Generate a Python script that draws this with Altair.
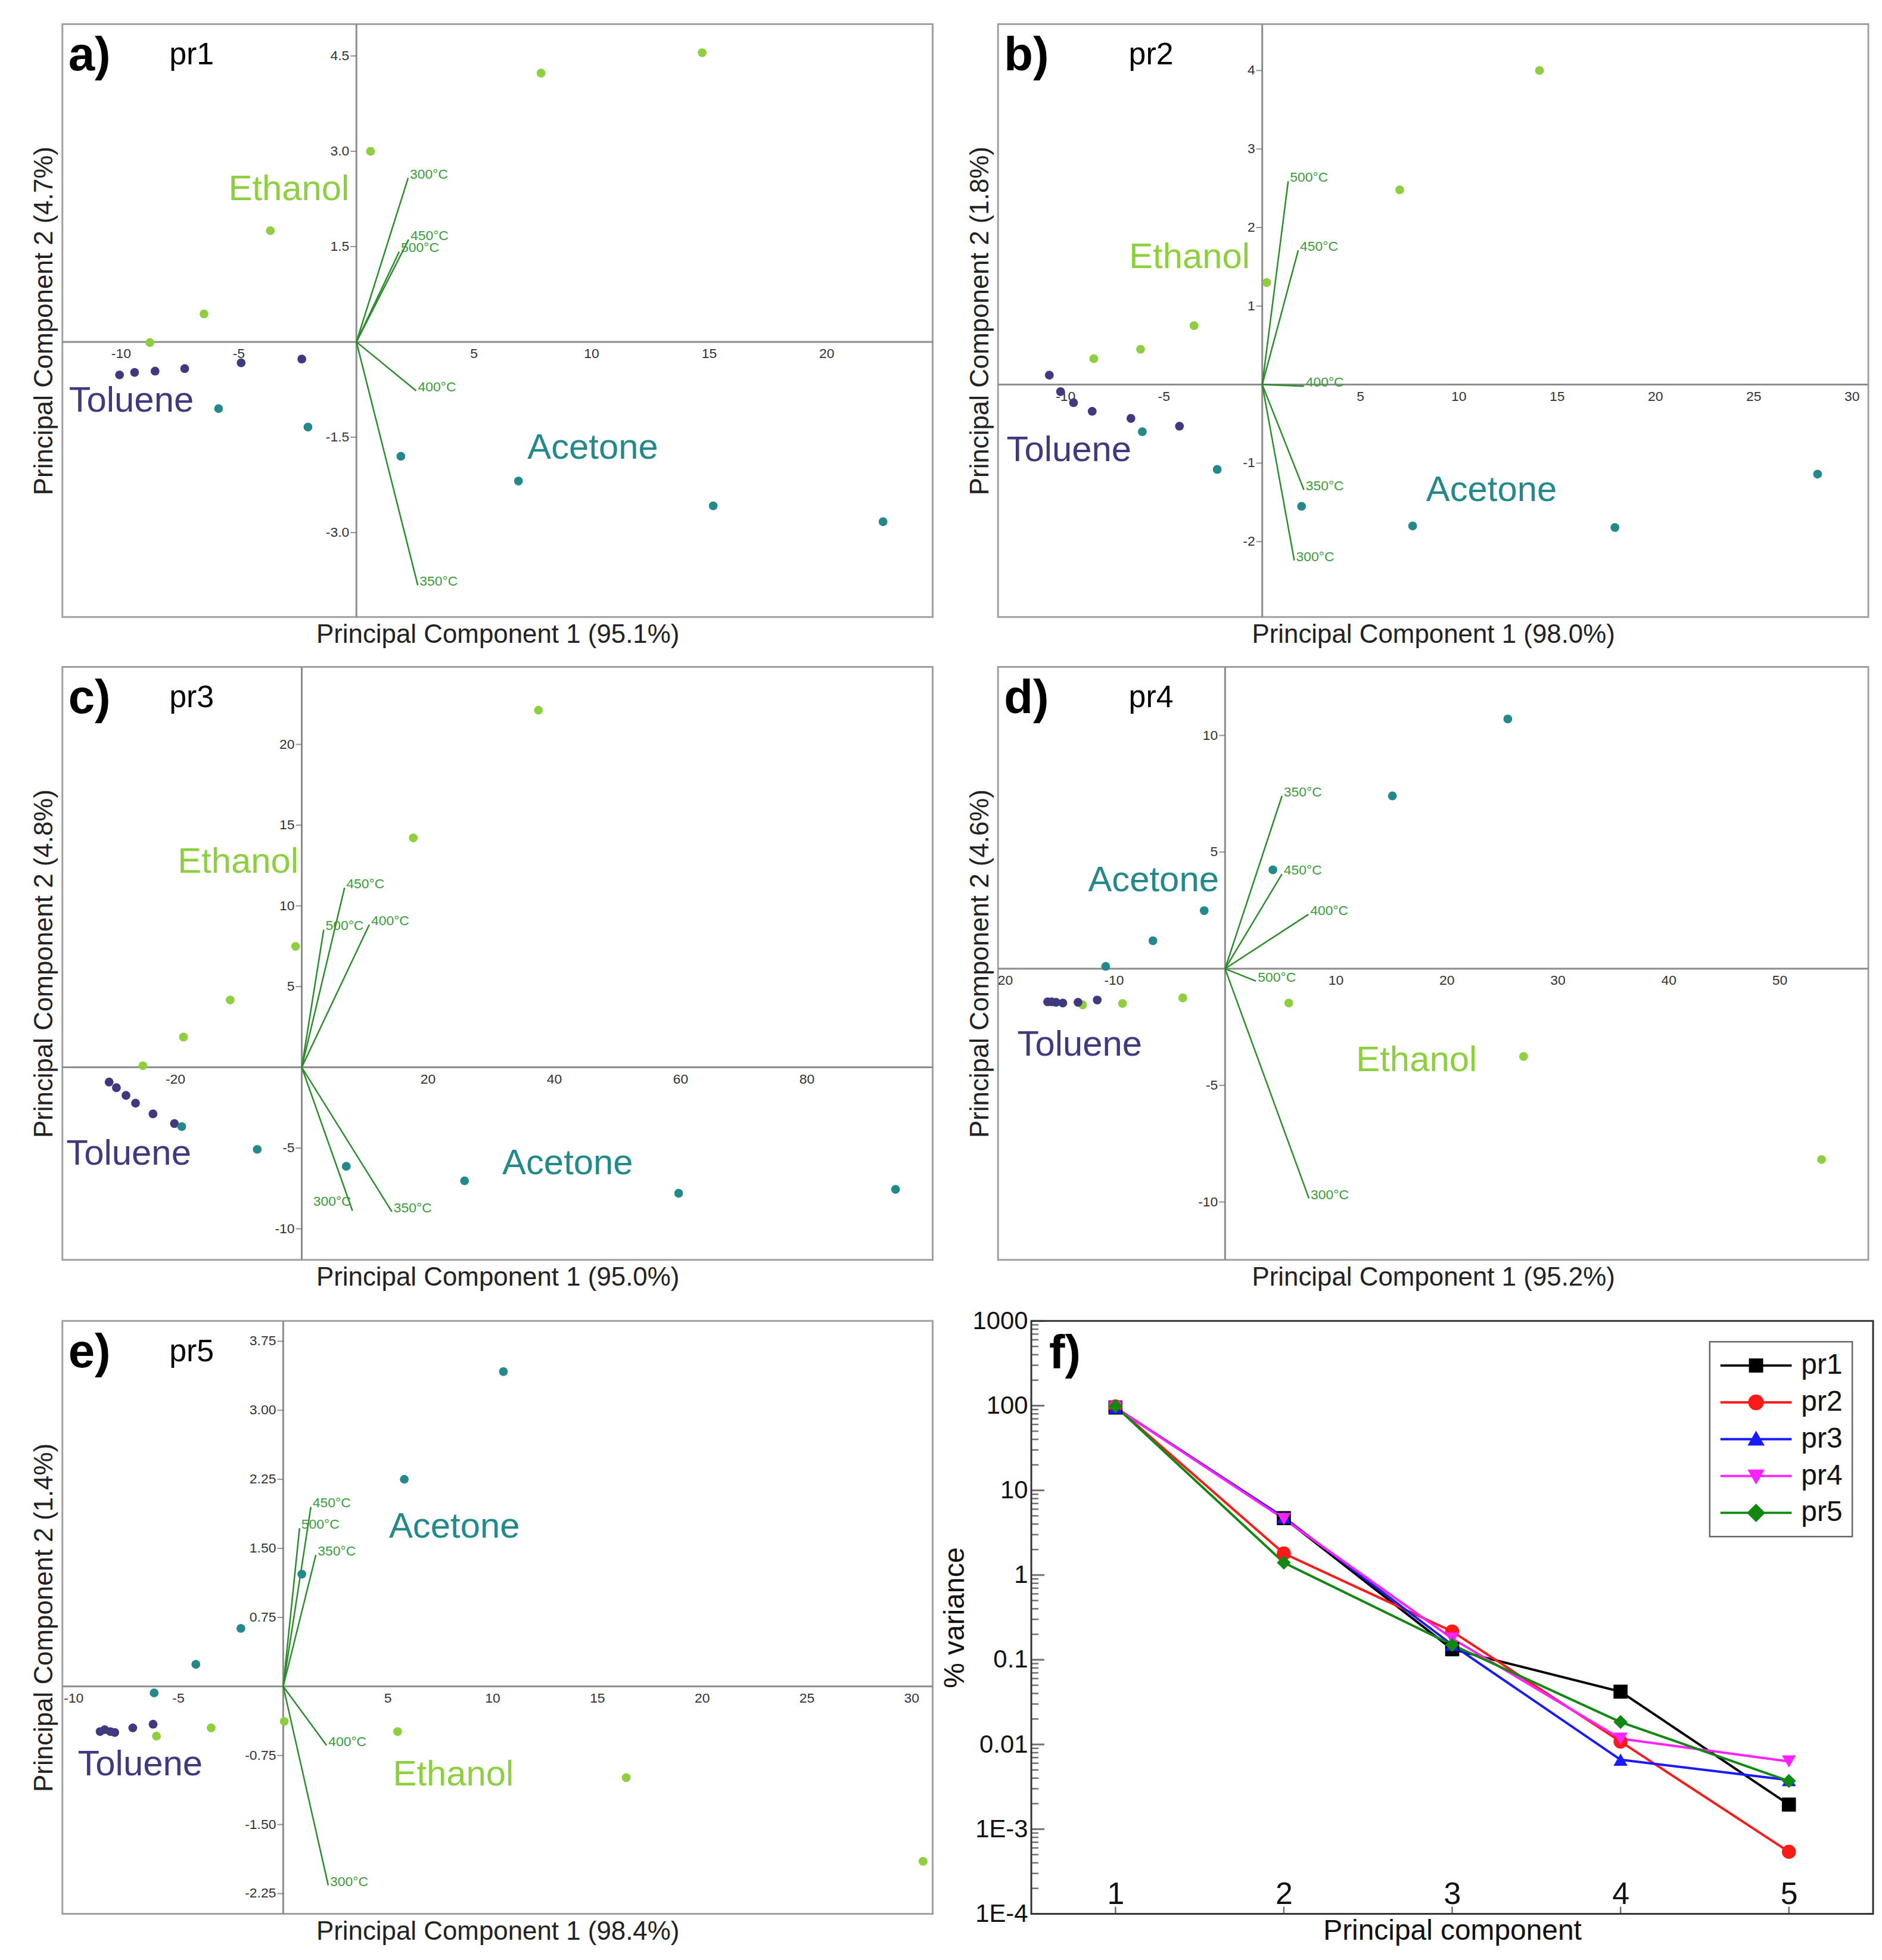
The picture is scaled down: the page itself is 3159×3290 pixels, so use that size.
import altair as alt
import pandas as pd

SANS = "Liberation Sans, Arial, Helvetica, sans-serif"
NARROW = "Liberation Sans Narrow, Liberation Sans, Arial, sans-serif"

ETH_C = "#8dcf3f"
TOL_C = "#3f3a80"
ACE_C = "#23898b"
LOAD_C = "#2b8c2b"
LOAD_TXT = "#3a9c3a"
ZERO_C = "#8c8c8c"
FRAME_C = "#a0a0a0"

SOLVENTS = ["Ethanol", "Toluene", "Acetone"]
SOLVENT_COLORS = [ETH_C, TOL_C, ACE_C]

# ---------------- panel a (pr1) ----------------
a_eth_x = [7.85, 14.7, 0.6, -3.66, -6.48, -8.78]
a_eth_y = [4.23, 4.55, 3.0, 1.75, 0.44, -0.01]
a_tol_x = [-10.07, -9.43, -8.56, -7.3, -4.9, -2.32]
a_tol_y = [-0.52, -0.48, -0.46, -0.42, -0.33, -0.27]
a_ace_x = [-5.86, -2.06, 1.89, 6.89, 15.17, 22.39]
a_ace_y = [-1.05, -1.34, -1.8, -2.19, -2.58, -2.83]
a_load_t = ["300°C", "450°C", "500°C", "400°C", "350°C"]
a_load_x = [2.2, 2.22, 1.82, 2.54, 2.61]
a_load_y = [2.58, 1.61, 1.42, -0.77, -3.83]
a_load_al = ["left", "left", "left", "left", "left"]
a_xticks = ["-10", "-5", "5", "10", "15", "20"]
a_yticks = ["4.5", "3.0", "1.5", "-1.5", "-3.0"]
a_grp_x = [-2.87, -9.57, 10.05]
a_grp_y = [2.40, -0.93, -1.67]

# ---------------- panel b (pr2) ----------------
b_eth_x = [14.1, 6.99, 0.23, -3.47, -6.19, -8.57]
b_eth_y = [4.0, 2.48, 1.30, 0.75, 0.45, 0.33]
b_tol_x = [-10.83, -10.26, -9.6, -8.65, -6.68, -4.21]
b_tol_y = [0.12, -0.09, -0.23, -0.34, -0.43, -0.53]
b_ace_x = [-6.1, -2.29, 2.0, 7.65, 17.94, 28.25]
b_ace_y = [-0.6, -1.08, -1.55, -1.8, -1.82, -1.14]
b_load_t = ["500°C", "450°C", "400°C", "350°C", "300°C"]
b_load_x = [1.32, 1.83, 2.12, 2.12, 1.63]
b_load_y = [2.59, 1.71, -0.02, -1.34, -2.24]
b_load_al = ["left", "left", "left", "left", "left"]
b_xticks = ["-10", "-5", "5", "10", "15", "20", "25", "30"]
b_yticks = ["4", "3", "2", "1", "-1", "-2"]
b_grp_x = [-3.70, -9.83, 11.66]
b_grp_y = [1.62, -0.84, -1.35]

# ---------------- panel c (pr3) ----------------
c_eth_x = [37.47, 17.66, -0.98, -11.33, -18.73, -25.16]
c_eth_y = [22.12, 14.21, 7.49, 4.17, 1.88, 0.1]
c_tol_x = [-30.5, -29.35, -27.83, -26.32, -23.55, -20.16]
c_tol_y = [-0.91, -1.26, -1.74, -2.22, -2.88, -3.48]
c_ace_x = [-19.0, -7.05, 7.05, 25.78, 59.68, 94.02]
c_ace_y = [-3.67, -5.08, -6.13, -7.03, -7.8, -7.56]
c_load_t = ["450°C", "500°C", "400°C", "300°C", "350°C"]
c_load_x = [6.78, 3.48, 10.7, 8.03, 14.27]
c_load_y = [11.13, 8.53, 8.84, -8.89, -8.94]
c_load_al = ["left", "left", "left", "right", "left"]
c_xticks = ["-20", "20", "40", "60", "80"]
c_yticks = ["20", "15", "10", "5", "-5", "-10"]
c_grp_x = [-10.08, -27.39, 42.1]
c_grp_y = [12.73, -5.36, -5.96]

# ---------------- panel d (pr4) ----------------
d_eth_x = [53.76, 26.9, 5.74, -3.81, -9.24, -12.84]
d_eth_y = [-8.18, -3.76, -1.47, -1.25, -1.49, -1.55]
d_tol_x = [-15.99, -15.63, -15.23, -14.62, -13.25, -11.52]
d_tol_y = [-1.42, -1.42, -1.44, -1.47, -1.44, -1.34]
d_ace_x = [25.48, 15.08, 4.31, -1.88, -6.5, -10.76]
d_ace_y = [10.71, 7.41, 4.24, 2.49, 1.2, 0.1]
d_load_t = ["350°C", "450°C", "400°C", "500°C", "300°C"]
d_load_x = [5.13, 5.13, 7.51, 2.79, 7.56]
d_load_y = [7.41, 4.06, 2.33, -0.53, -9.85]
d_load_al = ["left", "left", "left", "left", "left"]
d_xticks = ["-20", "-10", "10", "20", "30", "40", "50"]
d_yticks = ["10", "5", "-5", "-10"]
d_grp_x = [17.26, -13.1, -6.45]
d_grp_y = [-3.93, -3.28, 3.78]

# ---------------- panel e (pr5) ----------------
e_eth_x = [30.54, 16.37, 5.46, 0.05, -3.44, -6.05]
e_eth_y = [-1.9, -0.99, -0.49, -0.38, -0.45, -0.54]
e_tol_x = [-8.74, -8.52, -8.25, -8.04, -7.18, -6.21]
e_tol_y = [-0.49, -0.47, -0.49, -0.50, -0.45, -0.41]
e_ace_x = [10.51, 5.78, 0.89, -2.02, -4.17, -6.16]
e_ace_y = [3.42, 2.25, 1.22, 0.63, 0.24, -0.07]
e_load_t = ["450°C", "500°C", "350°C", "400°C", "300°C"]
e_load_x = [1.32, 0.78, 1.56, 2.07, 2.15]
e_load_y = [1.95, 1.72, 1.43, -0.64, -2.16]
e_load_al = ["left", "left", "left", "left", "left"]
e_xticks = ["-10", "-5", "5", "10", "15", "20", "25", "30"]
e_yticks = ["3.75", "3.00", "2.25", "1.50", "0.75", "-0.75", "-1.50", "-2.25"]
e_grp_x = [8.12, -6.83, 8.17]
e_grp_y = [-0.96, -0.85, 1.73]

# ---------------- panel f (scree) ----------------
f_pc = [1, 2, 3, 4, 5]
f_series = ["pr1", "pr2", "pr3", "pr4", "pr5"]
f_pr1 = [95.1, 4.7, 0.133, 0.042, 0.00195]
f_pr2 = [98.0, 1.8, 0.216, 0.0108, 0.00054]
f_pr3 = [95.0, 4.8, 0.150, 0.0066, 0.0038]
f_pr4 = [95.2, 4.6, 0.178, 0.0117, 0.0063]
f_pr5 = [98.4, 1.4, 0.150, 0.0184, 0.0037]
f_colors = ["#000000", "#ff1a1a", "#1a1aff", "#ff22ff", "#118811"]
f_shapes = ["square", "circle", "triangle-up", "triangle-down", "diamond"]
f_ymajor = [1e-4, 1e-3, 1e-2, 1e-1, 1, 10, 100, 1000]

W, H = 1465, 998


def scatter_panel(letter, name, name_x, pc1, pc2, xdom, ydom,
                  eth, tol, ace, load, xticks, yticks, grp):
    xs = alt.Scale(domain=xdom, nice=False, zero=False)
    ys = alt.Scale(domain=ydom, nice=False, zero=False)
    common = dict(labels=False, ticks=False, domain=False, grid=False,
                  titleFontSize=44, titleFontWeight="normal", titlePadding=8,
                  titleColor="#222222", titleFont=SANS)
    xa = alt.Axis(title=f"Principal Component 1 ({pc1})", **common)
    ya = alt.Axis(title=f"Principal Component 2 ({pc2})", **common)

    def X(f="x"):
        return alt.X(f"{f}:Q", scale=xs, axis=xa)

    def Y(f="y"):
        return alt.Y(f"{f}:Q", scale=ys, axis=ya)

    col = alt.Color("solvent:N", scale=alt.Scale(domain=SOLVENTS, range=SOLVENT_COLORS), legend=None)

    vz = alt.Chart(pd.DataFrame({"x": [0.0]})).mark_rule(color=ZERO_C, strokeWidth=3).encode(x=X())
    hz = alt.Chart(pd.DataFrame({"y": [0.0]})).mark_rule(color=ZERO_C, strokeWidth=3).encode(y=Y())

    ydf = pd.DataFrame({"x": [0.0] * len(yticks), "y": [float(t) for t in yticks], "t": yticks})
    xdf = pd.DataFrame({"x": [float(t) for t in xticks], "y": [0.0] * len(xticks), "t": xticks})
    ytk = alt.Chart(ydf).mark_tick(orient="horizontal", size=10, thickness=2, xOffset=-5,
                                   color="#666666").encode(x=X(), y=Y())
    ylab = alt.Chart(ydf).mark_text(align="right", baseline="middle", dx=-12, fontSize=23,
                                    font=NARROW, color="#333333", clip=True).encode(x=X(), y=Y(), text="t:N")
    xlab = alt.Chart(xdf).mark_text(align="center", baseline="top", dy=9, fontSize=23,
                                    font=NARROW, color="#333333", clip=True).encode(x=X(), y=Y(), text="t:N")

    rows = []
    for s, (xx, yy) in zip(SOLVENTS, [eth, tol, ace]):
        for a, b in zip(xx, yy):
            rows.append({"x": a, "y": b, "solvent": s})
    pts = alt.Chart(pd.DataFrame(rows)).mark_circle(size=220, opacity=1).encode(x=X(), y=Y(), color=col)

    lt, lx, ly, lal = load
    ldf = pd.DataFrame({"x": lx, "y": ly, "x0": [0.0] * len(lx), "y0": [0.0] * len(lx), "t": lt, "al": lal})
    lrule = alt.Chart(ldf).mark_rule(color=LOAD_C, strokeWidth=2.5).encode(
        x=X(), y=Y(), x2="x0:Q", y2="y0:Q")
    ltxt_l = alt.Chart(ldf).transform_filter(alt.datum.al == "left").mark_text(
        align="left", baseline="middle", dx=3, dy=-6, fontSize=23, font=NARROW, color=LOAD_TXT
    ).encode(x=X(), y=Y(), text="t:N")
    ltxt_r = alt.Chart(ldf).transform_filter(alt.datum.al == "right").mark_text(
        align="right", baseline="middle", dx=-2, dy=-16, fontSize=23, font=NARROW, color=LOAD_TXT
    ).encode(x=X(), y=Y(), text="t:N")

    gdf = pd.DataFrame({"x": grp[0], "y": grp[1], "solvent": SOLVENTS})
    glab = alt.Chart(gdf).mark_text(align="center", baseline="middle", fontSize=60, font=SANS).encode(
        x=X(), y=Y(), text="solvent:N", color=col)

    let = alt.Chart(pd.DataFrame({"t": [letter]})).mark_text(
        align="left", baseline="alphabetic", fontSize=80, fontWeight="bold", font=SANS, color="black"
    ).encode(x=alt.value(10), y=alt.value(78), text="t:N")
    nm = alt.Chart(pd.DataFrame({"t": [name]})).mark_text(
        align="left", baseline="alphabetic", fontSize=52, font=SANS, color="black"
    ).encode(x=alt.value(name_x), y=alt.value(68), text="t:N")

    return alt.layer(vz, hz, ytk, ylab, xlab, lrule, ltxt_l, ltxt_r, pts, glab, let, nm).properties(
        width=W, height=H, view=alt.ViewBackground(stroke=FRAME_C, strokeWidth=3))


pa = scatter_panel("a)", "pr1", 180, "95.1%", "4.7%", [-12.5, 24.5], [-4.33, 5.0],
                   (a_eth_x, a_eth_y), (a_tol_x, a_tol_y), (a_ace_x, a_ace_y),
                   (a_load_t, a_load_x, a_load_y, a_load_al), a_xticks, a_yticks, (a_grp_x, a_grp_y))
pb = scatter_panel("b)", "pr2", 220, "98.0%", "1.8%", [-13.44, 30.83], [-2.96, 4.59],
                   (b_eth_x, b_eth_y), (b_tol_x, b_tol_y), (b_ace_x, b_ace_y),
                   (b_load_t, b_load_x, b_load_y, b_load_al), b_xticks, b_yticks, (b_grp_x, b_grp_y))
pc = scatter_panel("c)", "pr3", 180, "95.0%", "4.8%", [-37.9, 99.9], [-11.92, 24.8],
                   (c_eth_x, c_eth_y), (c_tol_x, c_tol_y), (c_ace_x, c_ace_y),
                   (c_load_t, c_load_x, c_load_y, c_load_al), c_xticks, c_yticks, (c_grp_x, c_grp_y))
pd_ = scatter_panel("d)", "pr4", 220, "95.2%", "4.6%", [-20.46, 57.97], [-12.48, 12.94],
                    (d_eth_x, d_eth_y), (d_tol_x, d_tol_y), (d_ace_x, d_ace_y),
                    (d_load_t, d_load_x, d_load_y, d_load_al), d_xticks, d_yticks, (d_grp_x, d_grp_y))
pe = scatter_panel("e)", "pr5", 180, "98.4%", "1.4%", [-10.54, 31.0], [-2.47, 3.97],
                   (e_eth_x, e_eth_y), (e_tol_x, e_tol_y), (e_ace_x, e_ace_y),
                   (e_load_t, e_load_x, e_load_y, e_load_al), e_xticks, e_yticks, (e_grp_x, e_grp_y))

# ---------------- panel f ----------------
frows = []
for s, vals in zip(f_series, [f_pr1, f_pr2, f_pr3, f_pr4, f_pr5]):
    for p, v in zip(f_pc, vals):
        frows.append({"pc": p, "value": v, "series": s, "marker": s})
fdf = pd.DataFrame(frows)

fxs = alt.Scale(domain=[0.5, 5.5], nice=False, zero=False)
fys = alt.Scale(type="log", domain=[1e-4, 1000], nice=False)
fxa = alt.Axis(title="Principal component", values=f_pc, format="d", grid=False, ticks=False, domain=False,
               offset=-58, labelPadding=0, labelFontSize=52, labelFont=NARROW, labelColor="#111111",
               titleFontSize=48, titleFont=NARROW, titleFontWeight="normal", titleColor="#111111",
               titlePadding=12)
fya = alt.Axis(title="% variance", values=f_ymajor, grid=False, ticks=False, domain=False,
               labelExpr="datum.value < 0.005 ? '1E' + round(log(datum.value)/LN10) : format(datum.value, '~g')",
               labelFontSize=42, labelFont=NARROW, labelColor="#111111", labelPadding=6,
               titleFontSize=48, titleFont=NARROW, titleFontWeight="normal", titleColor="#111111",
               titlePadding=4)


def FX():
    return alt.X("pc:Q", scale=fxs, axis=fxa)


def FY():
    return alt.Y("value:Q", scale=fys, axis=fya)


fcol_scale = alt.Scale(domain=f_series, range=f_colors)

fline = alt.Chart(fdf).mark_line(strokeWidth=4).encode(
    x=FX(), y=FY(), color=alt.Color("series:N", scale=fcol_scale, legend=None))
fpts = alt.Chart(fdf).mark_point(filled=True, size=560, opacity=1).encode(
    x=FX(), y=FY(), color=alt.Color("series:N", scale=fcol_scale, legend=None),
    shape=alt.Shape("marker:N", scale=alt.Scale(domain=f_series, range=f_shapes), legend=None))

bar = "M-2.5,-0.08H2.5V0.08H-2.5Z"
legend_paths = [
    bar + "M-0.5,-0.5H0.5V0.5H-0.5Z",
    bar + "M-0.55,0A0.55,0.55 0 1,1 0.55,0A0.55,0.55 0 1,1 -0.55,0Z",
    bar + "M0,-0.6L0.6,0.45L-0.6,0.45Z",
    bar + "M-0.6,-0.45L0.6,-0.45L0,0.6Z",
    bar + "M0,-0.65L0.65,0L0,0.65L-0.65,0Z",
]
leg = alt.Legend(title=None, orient="top-right", offset=35, labelFontSize=48, labelFont=NARROW,
                 labelColor="#111111", symbolSize=2304, symbolStrokeWidth=0, symbolOpacity=1,
                 padding=16, rowPadding=14, labelOffset=52, symbolOffset=38,
                 strokeColor="#666666", fillColor="white")
flegend = alt.Chart(fdf).transform_filter("false").mark_point(filled=True, size=2304, opacity=1).encode(
    x=FX(), y=FY(),
    color=alt.Color("series:N", scale=fcol_scale, legend=leg),
    shape=alt.Shape("series:N", scale=alt.Scale(domain=f_series, range=legend_paths), legend=leg))

ymin_vals = [k * 10.0 ** e for e in range(-4, 3) for k in range(2, 10)]
ftk_major = alt.Chart(pd.DataFrame({"pc": [0.5] * len(f_ymajor), "value": f_ymajor})).mark_tick(
    orient="horizontal", size=22, thickness=3, xOffset=11, color="#333333").encode(x=FX(), y=FY())
ftk_minor = alt.Chart(pd.DataFrame({"pc": [0.5] * len(ymin_vals), "value": ymin_vals})).mark_tick(
    orient="horizontal", size=12, thickness=2.5, xOffset=6, color="#333333").encode(x=FX(), y=FY())
ftk_x = alt.Chart(pd.DataFrame({"pc": f_pc, "value": [1e-4] * len(f_pc)})).mark_tick(
    orient="vertical", size=12, thickness=2.5, yOffset=-6, color="#333333").encode(x=FX(), y=FY())
flet = alt.Chart(pd.DataFrame({"t": ["f)"]})).mark_text(
    align="left", baseline="alphabetic", fontSize=80, fontWeight="bold", font=SANS, color="black"
).encode(x=alt.value(30), y=alt.value(80), text="t:N")

pf = alt.layer(ftk_major, ftk_minor, ftk_x, fline, fpts, flegend, flet).resolve_scale(
    color="independent", shape="independent").properties(
    width=1417, height=H, view=alt.ViewBackground(stroke="#333333", strokeWidth=3))

row1 = alt.hconcat(pa, pb, spacing=53)
row2 = alt.hconcat(pc, pd_, spacing=53)
row3 = alt.hconcat(pe, pf, spacing=10)
top = alt.vconcat(row1, row2, spacing=27)
chart = alt.vconcat(top, row3, spacing=26).properties(
    padding={"left": 43, "top": 25, "right": 5, "bottom": 5}
).configure(font=SANS).configure_legend(strokeWidth=2.5)

chart.save("out.html", embed_options={"renderer": "svg", "actions": False})
